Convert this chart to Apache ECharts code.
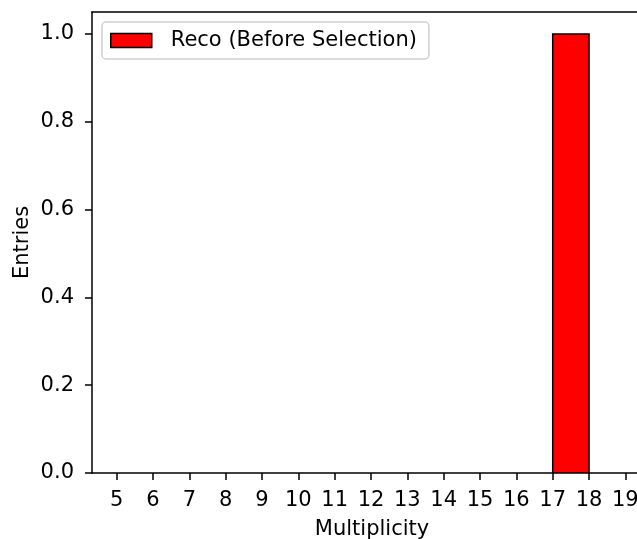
<!DOCTYPE html>
<html>
<head>
<meta charset="utf-8">
<script src="https://cdn.jsdelivr.net/npm/echarts@6/dist/echarts.min.js"></script>
<style>
html,body{margin:0;padding:0;background:#fff;}
#chart{width:637px;height:539px;}
</style>
</head>
<body>
<div id="chart"></div>
<script>
// Histogram data
const binLefts = [17];
const binCounts = [1];
const binWidth = 1;
const xTickValues = [5, 6, 7, 8, 9, 10, 11, 12, 13, 14, 15, 16, 17, 18, 19];
const yTickValues = [0, 0.2, 0.4, 0.6, 0.8, 1.0];
const seriesName = 'Reco (Before Selection)';
const xLabel = 'Multiplicity';
const yLabel = 'Entries';

const FONT = 'DejaVu Sans';
const FS = 21;
const chart = echarts.init(document.getElementById('chart'), null, {renderer: 'canvas'});

const data = binLefts.map((l, i) => [l, l + binWidth, binCounts[i]]);
const X_MIN = 4.32, X_MAX = 19.32;

chart.setOption({
  animation: false,
  backgroundColor: '#fff',
  textStyle: {fontFamily: FONT},
  grid: {
    left: 92, top: 12, right: 0, bottom: 66,
    show: false,
    containLabel: false,
    outerBoundsMode: 'none'
  },
  legend: {
    left: 102, top: 22,
    orient: 'vertical',
    padding: [8, 12, 8, 8],
    backgroundColor: '#fff',
    borderColor: '#d0d0d0',
    borderWidth: 1.5,
    borderRadius: 4,
    itemWidth: 41,
    itemHeight: 14,
    selectedMode: false,
    textStyle: {fontFamily: FONT, fontSize: FS, color: '#000', padding: [0, 0, 0, 14]},
    data: [{name: seriesName, icon: 'rect', itemStyle: {color: '#ff0000', borderColor: '#000', borderWidth: 1.5}}]
  },
  xAxis: [{
    type: 'value',
    min: X_MIN,
    max: X_MAX,
    name: xLabel,
    nameLocation: 'middle',
    nameGap: 46,
    nameMoveOverlap: false,
    nameTextStyle: {fontFamily: FONT, fontSize: FS, color: '#000', padding: [0, 0, 0, 15]},
    splitLine: {show: false},
    axisLine: {show: true, lineStyle: {color: '#000', width: 1.5}},
    axisTick: {show: true, length: 7, lineStyle: {color: '#000', width: 1.5}, customValues: xTickValues},
    axisLabel: {
      fontFamily: FONT, fontSize: FS, color: '#000', margin: 17,
      customValues: xTickValues,
      formatter: v => String(v)
    }
  }, {
    type: 'value',
    position: 'top',
    min: X_MIN,
    max: X_MAX,
    splitLine: {show: false},
    axisLine: {show: true, onZero: false, lineStyle: {color: '#000', width: 1.5}},
    axisTick: {show: false},
    axisLabel: {show: false}
  }],
  yAxis: {
    type: 'value',
    min: 0,
    max: 1.05,
    name: yLabel,
    nameLocation: 'middle',
    nameGap: 59,
    nameRotate: 90,
    nameMoveOverlap: false,
    nameTextStyle: {fontFamily: FONT, fontSize: FS, color: '#000'},
    splitLine: {show: false},
    axisLine: {show: true, lineStyle: {color: '#000', width: 1.5}},
    axisTick: {show: true, length: 7, lineStyle: {color: '#000', width: 1.5}, customValues: yTickValues},
    axisLabel: {
      fontFamily: FONT, fontSize: FS, color: '#000', margin: 18,
      customValues: yTickValues,
      formatter: v => v.toFixed(1)
    }
  },
  series: [{
    name: seriesName,
    type: 'custom',
    clip: true,
    xAxisIndex: 0,
    encode: {x: [0, 1], y: 2},
    data: data,
    renderItem: function (params, api) {
      const x0 = api.value(0), x1 = api.value(1), h = api.value(2);
      if (h <= 0) return null;
      const p0 = api.coord([x0, h]);
      const p1 = api.coord([x1, 0]);
      return {
        type: 'rect',
        shape: {x: p0[0], y: p0[1], width: p1[0] - p0[0], height: p1[1] - p0[1]},
        style: {fill: '#ff0000', stroke: '#000', lineWidth: 1.5}
      };
    }
  }]
});
</script>
</body>
</html>
